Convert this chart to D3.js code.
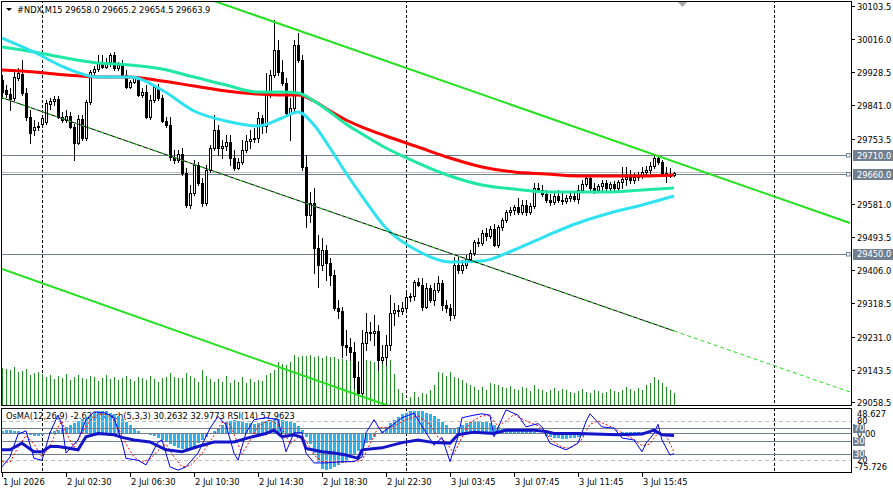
<!DOCTYPE html>
<html>
<head>
<meta charset="utf-8">
<script src="https://cdn.jsdelivr.net/npm/d3@7"></script>
<style>
  body { margin: 0; background: #fff; }
  svg text { font-family: "DejaVu Sans", sans-serif; font-size: 8.3px; fill: #000; }
</style>
</head>
<body>
<svg id="chart" width="893" height="494"></svg>
<script>
// #NDX M15 bars: [open, high, low, close]
var candles = [
  [29908.2,29921.4,29860.7,29876.5],[29881.8,29895.0,29863.3,29871.2],[29871.2,29887.1,29829.0,29858.0],[29860.7,29934.6,29855.4,29916.1],
  [29913.5,29939.9,29908.2,29926.7],[29924.0,29961.0,29868.6,29873.9],[29873.9,29887.1,29802.6,29810.5],[29810.5,29829.0,29741.9,29768.3],
  [29776.2,29802.6,29763.0,29784.1],[29784.1,29797.3,29776.2,29786.8],[29792.0,29815.8,29786.8,29807.9],[29797.3,29855.4,29792.0,29847.5],
  [29844.8,29860.7,29831.6,29852.8],[29852.8,29866.0,29842.2,29858.0],[29858.0,29866.0,29807.9,29810.5],[29810.5,29823.7,29797.3,29802.6],
  [29802.6,29829.0,29797.3,29813.2],[29813.2,29823.7,29781.5,29784.1],[29784.1,29792.0,29697.1,29741.9],[29741.9,29815.8,29739.3,29805.2],
  [29805.2,29815.8,29749.8,29755.1],[29755.1,29855.4,29749.8,29850.1],[29850.1,29934.6,29844.8,29929.3],[29929.3,29945.1,29924.0,29937.2],
  [29937.2,29974.2,29931.9,29955.7],[29955.7,29974.2,29939.9,29942.5],[29942.5,29966.2,29939.9,29955.7],[29955.7,29979.4,29945.1,29974.2],
  [29974.2,29982.1,29934.6,29939.9],[29939.9,29955.7,29934.6,29947.8],[29947.8,29961.0,29918.7,29921.4],[29921.4,29934.6,29887.1,29889.7],
  [29889.7,29908.2,29887.1,29902.9],[29902.9,29918.7,29900.3,29913.5],[29913.5,29918.7,29866.0,29868.6],[29868.6,29887.1,29863.3,29876.5],
  [29876.5,29895.0,29807.9,29810.5],[29810.5,29868.6,29805.2,29855.4],[29855.4,29895.0,29850.1,29889.7],[29889.7,29897.6,29855.4,29860.7],
  [29860.7,29868.6,29797.3,29800.0],[29800.0,29810.5,29784.1,29789.4],[29789.4,29810.5,29697.1,29705.0],[29705.0,29723.5,29689.1,29697.1],
  [29697.1,29723.5,29691.8,29712.9],[29712.9,29728.7,29657.5,29662.7],[29662.7,29675.9,29573.0,29578.3],[29578.3,29631.1,29570.4,29609.9],
  [29609.9,29697.1,29604.7,29683.9],[29683.9,29691.8,29631.1,29636.4],[29636.4,29649.6,29575.6,29583.6],[29583.6,29683.9,29578.3,29670.7],
  [29670.7,29736.6,29665.4,29728.7],[29728.7,29815.8,29723.5,29776.2],[29776.2,29789.4,29710.3,29728.7],[29728.7,29749.8,29702.3,29734.0],
  [29734.0,29763.0,29723.5,29744.6],[29744.6,29763.0,29683.9,29702.3],[29702.3,29723.5,29670.7,29675.9],[29675.9,29702.3,29673.3,29691.8],
  [29691.8,29749.8,29686.5,29723.5],[29723.5,29763.0,29718.2,29747.2],[29747.2,29776.2,29728.7,29752.5],[29752.5,29781.5,29744.6,29755.1],
  [29755.1,29823.7,29744.6,29807.9],[29807.9,29815.8,29768.3,29786.8],[29786.8,29926.7,29771.0,29868.6],[29868.6,29934.6,29863.3,29921.4],
  [29921.4,30066.5,29916.1,29987.4],[29987.4,30013.7,29921.4,29929.3],[29929.3,29961.0,29895.0,29900.3],[29900.3,29913.5,29815.8,29821.1],
  [29821.1,29860.7,29749.8,29834.3],[29834.3,30013.7,29823.7,30000.5],[30000.5,30032.2,29955.7,29961.0],[29961.0,29974.2,29670.7,29678.6],
  [29678.6,29710.3,29520.2,29551.9],[29551.9,29612.6,29533.5,29583.6],[29583.6,29623.2,29398.9,29464.8],[29464.8,29499.1,29362.0,29420.0],
  [29420.0,29491.2,29406.8,29459.6],[29459.6,29472.8,29380.4,29425.3],[29425.3,29438.4,29367.2,29393.6],[29393.6,29406.8,29301.2,29306.5],
  [29306.5,29327.6,29280.1,29298.6],[29298.6,29309.1,29177.2,29208.9],[29208.9,29248.4,29182.5,29203.6],[29203.6,29227.3,29169.3,29190.4],
  [29190.4,29216.8,29095.4,29124.4],[29124.4,29164.0,29076.9,29082.2],[29082.2,29248.4,29079.6,29214.1],[29214.1,29293.3,29195.7,29243.1],
  [29243.1,29269.5,29222.0,29240.5],[29240.5,29288.0,29208.9,29245.8],[29245.8,29261.6,29142.9,29169.3],[29169.3,29208.9,29161.4,29177.2],
  [29177.2,29235.2,29156.1,29208.9],[29208.9,29340.8,29195.7,29293.3],[29293.3,29319.7,29261.6,29301.2],[29301.2,29314.4,29285.3,29298.6],
  [29298.6,29322.3,29290.6,29306.5],[29306.5,29346.1,29301.2,29335.5],[29335.5,29346.1,29325.0,29338.2],[29338.2,29380.4,29327.6,29375.1],
  [29375.1,29385.7,29364.6,29367.2],[29367.2,29385.7,29301.2,29309.1],[29309.1,29372.5,29306.5,29359.3],[29359.3,29367.2,29322.3,29327.6],
  [29327.6,29372.5,29314.4,29354.0],[29354.0,29391.0,29348.8,29372.5],[29372.5,29380.4,29301.2,29314.4],[29314.4,29327.6,29295.9,29306.5],
  [29306.5,29317.0,29274.8,29288.0],[29288.0,29441.1,29280.1,29420.0],[29420.0,29441.1,29398.9,29406.8],[29406.8,29433.2,29398.9,29420.0],
  [29420.0,29446.4,29412.1,29435.8],[29435.8,29459.6,29427.9,29451.6],[29451.6,29485.9,29446.4,29480.7],[29480.7,29491.2,29470.1,29478.0],
  [29478.0,29512.3,29472.8,29504.4],[29504.4,29517.6,29485.9,29496.5],[29496.5,29522.9,29491.2,29515.0],[29515.0,29528.2,29470.1,29472.8],
  [29472.8,29525.5,29467.5,29520.2],[29520.2,29544.0,29512.3,29538.7],[29538.7,29565.1,29533.5,29559.8],[29559.8,29573.0,29551.9,29565.1],
  [29565.1,29578.3,29554.6,29573.0],[29573.0,29596.8,29554.6,29559.8],[29559.8,29591.5,29554.6,29578.3],[29578.3,29591.5,29551.9,29559.8],
  [29559.8,29583.6,29554.6,29575.6],[29575.6,29636.4,29570.4,29623.2],[29623.2,29636.4,29612.6,29617.9],[29617.9,29631.1,29602.0,29607.3],
  [29607.3,29617.9,29586.2,29591.5],[29591.5,29607.3,29578.3,29586.2],[29586.2,29612.6,29580.9,29602.0],[29602.0,29617.9,29586.2,29591.5],
  [29591.5,29609.9,29580.9,29588.8],[29588.8,29604.7,29583.6,29596.8],[29596.8,29609.9,29588.8,29602.0],[29602.0,29609.9,29588.8,29594.1],
  [29594.1,29631.1,29583.6,29617.9],[29617.9,29644.3,29612.6,29633.7],[29633.7,29657.5,29628.4,29649.6],[29649.6,29657.5,29617.9,29623.2],
  [29623.2,29636.4,29609.9,29617.9],[29617.9,29633.7,29612.6,29628.4],[29628.4,29644.3,29617.9,29636.4],[29636.4,29644.3,29617.9,29623.2],
  [29623.2,29639.0,29617.9,29633.7],[29633.7,29641.6,29617.9,29623.2],[29623.2,29644.3,29617.9,29639.0],[29639.0,29678.6,29623.2,29646.9],
  [29646.9,29678.6,29631.1,29652.2],[29652.2,29670.7,29636.4,29644.3],[29644.3,29662.7,29636.4,29652.2],[29652.2,29665.4,29644.3,29657.5],
  [29657.5,29678.6,29649.6,29665.4],[29665.4,29681.2,29657.5,29670.7],[29670.7,29691.8,29662.7,29681.2],[29681.2,29712.9,29675.9,29702.3],
  [29702.3,29707.6,29686.5,29691.8],[29691.8,29697.1,29657.5,29662.7],[29662.7,29678.6,29639.0,29657.5],[29657.5,29675.9,29652.2,29658.0],
  [29658.0,29665.2,29654.5,29663.9]
];

// tick volume, hundreds
var volumes = [
  37,36,35,38,33,34,36,30,32,33,31,
  28,30,26,29,27,31,25,28,30,27,26,29,28,24,27,30,26,28,25,27,29,26,24,28,27,25,29,26,23,27,28,
  32,28,27,27,32,29,27,23,35,29,26,23,26,23,29,22,25,23,28,22,26,23,25,24,30,32,35,43,41,40,43,50,48,
  49,49,50,48,49,47,49,48,48,46,46,45,46,45,44,46,45,44,43,45,44,43,
  45,31,16,12,5,8,13,8,12,11,15,20,33,32,29,33,28,27,25,22,20,18,15,18,15,22,21,
  20,18,17,19,16,15,18,17,14,20,16,15,13,15,17,14,16,
  15,13,12,14,16,13,12,15,14,12,13,16,14,13,15,18,16,14,17,15,
  20,22,28,25,22,18,15,12
];

// moving averages, sampled at these bars
var maIdx   = [0, 8, 16, 24, 32, 40, 48, 56, 64, 70, 74, 78, 82, 86, 90, 96, 104, 112, 120, 128, 136, 144, 152, 160, 168];
var maRed   = [29934.6,29929.3,29921.4,29916.1,29916.1,29905.5,29892.4,29879.2,29871.2,29868.6,29868.6,29852.8,29826.4,29802.6,29784.1,29760.4,29731.4,29702.3,29678.6,29665.4,29660.1,29654.8,29654.8,29654.8,29657.5];
var maGreen = [29995.3,29982.1,29966.2,29953.0,29947.8,29937.2,29916.1,29895.0,29876.5,29876.5,29873.9,29852.8,29823.7,29792.0,29765.7,29728.7,29689.1,29654.8,29631.1,29620.5,29612.6,29612.6,29612.6,29617.9,29623.2];
var maCyan  = [30019.0,29982.1,29939.9,29916.1,29916.1,29881.8,29826.4,29800.0,29786.8,29807.9,29823.7,29789.4,29728.7,29662.7,29602.0,29517.6,29456.9,29427.9,29430.5,29459.6,29496.5,29530.8,29557.2,29578.3,29602.0];

// OsMA(12,26,9) per bar
var osma = [
  5,6,6,5,4, 2,-2,-4,-5,-5, -4,-2,2,5,7,9, 12,16,20,24,28, 32,36,40,42,43,42,40,37,
  33,28,22,16,10,5, 1,-2,-4,-6, -9,-13,-17,-21,-25,-28,-31,-32, -30,-26,-20,-14,-8,-2,
  4,10,16,21,24,25, 24,22,20,19,18,19,21,23,25,27,27,26,24,22,19,15, 6,-8,
  -22,-38,-55,-68,-70,-69,-66,-62,-58,-53,-48,-42,-35,-28, -20,-13,-7,-2,
  5,12,19,26,32,37,40,42,43,43,42,40,37,33, 28,22,16,10,
  8,12,17,20,22,23,23,22,21,19, 16,13,11,9,8,7,6,6,5,4,3,1,
  -2,-5,-7,-9,-10,-11,-11,-10,-9,-7,
  -5,-4,-3,-2,-2,-1,-1,0,1,1,2,2,3,3,2,2,1,1,0,
  -1,-2,-2,-3,-2.624
];

// [bar, value]
var stochMain = [[0,10],[2,25],[4,60],[6,65],[8,23],[10,20],[12,62],[14,89],[15,74],[16,31],[19,51],[21,82],[23,94],[26,92],[28,85],[30,48],[31,23],[34,20],[36,13],[39,48],[40,51],[42,10],[44,5],[46,10],[49,31],[52,69],[54,87],[56,74],[58,31],[59,20],[61,62],[63,82],[66,85],[69,82],[71,33],[73,62],[75,62],[76,31],[78,16],[81,16],[85,18],[88,18],[90,25],[91,62],[93,82],[95,62],[97,71],[100,85],[103,92],[106,62],[108,43],[110,55],[112,18],[114,56],[115,85],[118,89],[120,91],[122,89],[123,56],[126,97],[129,89],[131,71],[134,76],[135,71],[137,46],[139,41],[141,36],[144,46],[146,79],[147,91],[150,71],[153,69],[155,54],[158,51],[160,33],[161,46],[163,61],[164,75],[165,51],[167,28],[168,30.2632]];
var stochSignal = [[0,18],[2,17],[4,40],[6,58],[8,45],[10,25],[12,42],[14,70],[15,80],[16,62],[18,40],[20,62],[22,80],[24,90],[27,90],[29,70],[31,45],[33,25],[35,17],[37,22],[39,35],[41,45],[43,25],[45,10],[47,12],[50,30],[53,58],[55,78],[57,75],[59,45],[60,30],[62,50],[64,72],[67,82],[70,70],[72,45],[74,55],[76,50],[78,28],[80,18],[84,17],[88,18],[90,20],[92,45],[94,70],[96,70],[98,72],[101,82],[104,88],[107,75],[109,55],[111,48],[113,30],[115,55],[117,78],[120,88],[122,88],[124,72],[126,80],[128,90],[131,80],[134,73],[136,60],[138,48],[140,40],[142,38],[145,52],[147,75],[149,80],[152,72],[155,62],[158,52],[160,42],[162,45],[164,62],[166,58],[168,32.9773]];
var rsi = [[0,36],[2,36],[4,43],[5,46],[8,33],[10,33],[12,41],[14,41],[16,39],[19,36],[21,56],[24,61],[28,59],[30,55],[33,51],[37,48],[41,36],[45,33],[49,41],[53,48],[58,48],[62,55],[66,61],[68,66],[70,56],[73,59],[75,55],[76,38],[80,33],[83,31],[86,28],[89,23],[90,36],[95,39],[100,47],[104,51],[108,47],[112,46],[114,59],[118,63],[123,61],[126,66],[133,66],[136,64],[138,61],[144,61],[154,59],[160,60],[163,66],[165,59],[168,57.9623]];

// channel objects, [bar, price]
var upperChannel = [[0, 30312.3], [212, 29530.8]];
var midChannel = [[0, 29861.5], [168, 29246.0], [212, 29084.8]];
var lowerChannel = [[0, 29409.4], [110, 28998.4]];

var hLevels = [29710.0, 29660.0, 29450.0];
var bidPrice = 29663.9;
var priceTicks = [30103.5, 30016.0, 29928.5, 29841.0, 29753.5, 29581.0, 29493.5, 29406.0, 29318.5, 29231.0, 29143.5, 29058.5];
var daySeparators = [10, 101, 193];
var timeTickIdx = [0, 16, 32, 48, 64, 80, 96, 112, 128, 144, 160];
var timeLabels = ["1 Jul 2026", "2 Jul 02:30", "2 Jul 06:30", "2 Jul 10:30", "2 Jul 14:30", "2 Jul 18:30",
                  "2 Jul 22:30", "3 Jul 03:45", "3 Jul 07:45", "3 Jul 11:45", "3 Jul 15:45"];

var x = d3.scaleLinear().domain([0, 168]).range([2, 674]);
var y = d3.scaleLinear().domain([29058.5, 30103.5]).range([402, 6]);
var yVol = d3.scaleLinear().domain([0, 50]).range([405, 355]);
var yOsc = d3.scaleLinear().domain([0, 100]).range([473.4, 407.9]);
var yOsma = d3.scaleLinear().domain([-75.726, 48.627]).range([473, 408]);

var svg = d3.select('#chart');
svg.append('rect').attr('width', 893).attr('height', 494).attr('fill', '#fff');

var defs = svg.append('defs');
defs.append('clipPath').attr('id', 'clipMain').append('rect')
    .attr('x', 2).attr('y', 2).attr('width', 849).attr('height', 403);
defs.append('clipPath').attr('id', 'clipOsc').append('rect')
    .attr('x', 2).attr('y', 409).attr('width', 849).attr('height', 63);

var main = svg.append('g').attr('clip-path', 'url(#clipMain)');
var osc = svg.append('g').attr('clip-path', 'url(#clipOsc)');

function px(i) { return Math.round(x(i)); }
function snap(v) { return Math.round(v) + 0.5; }

// header
svg.append('path').attr('d', 'M6,8 L12,8 L9,11 Z').attr('fill', '#000');
svg.append('text').attr('x', 17).attr('y', 13).text('#NDX,M15  29658.0 29665.2 29654.5 29663.9');
svg.append('path').attr('d', 'M677,1 L688,1 L682.5,7 Z').attr('fill', '#a8a8a8');

// day separators
daySeparators.forEach(function (i) {
    var sx = px(i) + 0.5;
    main.append('line').attr('x1', sx).attr('x2', sx).attr('y1', 0).attr('y2', 405)
        .attr('stroke', '#000').attr('stroke-dasharray', '3,2');
    osc.append('line').attr('x1', sx).attr('x2', sx).attr('y1', 408).attr('y2', 473)
        .attr('stroke', '#000').attr('stroke-dasharray', '3,2');
});

// volumes
main.selectAll('.vol').data(volumes).enter().append('line')
    .attr('class', 'vol')
    .attr('x1', function (d, i) { return px(i) + 0.5; })
    .attr('x2', function (d, i) { return px(i) + 0.5; })
    .attr('y1', 405)
    .attr('y2', function (d) { return Math.round(yVol(d)); })
    .attr('stroke', '#1f8f1f');

// horizontal lines
main.append('line').attr('x1', 2).attr('x2', 851).attr('y1', snap(y(bidPrice)) - 1).attr('y2', snap(y(bidPrice)) - 1)
    .attr('stroke', '#c0c0c0');
hLevels.forEach(function (v) {
    var hy = snap(y(v));
    main.append('line').attr('x1', 2).attr('x2', 846).attr('y1', hy).attr('y2', hy).attr('stroke', '#708090');
    main.append('rect').attr('x', 846.5).attr('y', hy - 2).attr('width', 3.5).attr('height', 3.5)
        .attr('fill', '#fff').attr('stroke', '#708090');
});

// candles
var bars = main.selectAll('.bar').data(candles).enter().append('g').attr('class', 'bar');
bars.append('line')
    .attr('x1', function (d, i) { return px(i) + 0.5; })
    .attr('x2', function (d, i) { return px(i) + 0.5; })
    .attr('y1', function (d) { return Math.round(y(d[1])); })
    .attr('y2', function (d) { return Math.round(y(d[2])) + 1; })
    .attr('stroke', '#000');
bars.append('rect')
    .attr('x', function (d, i) { return d[3] >= d[0] ? px(i) - 0.5 : px(i) - 1; })
    .attr('y', function (d) {
        var t = Math.round(y(Math.max(d[0], d[3])));
        return d[3] >= d[0] ? t + 0.5 : t;
    })
    .attr('width', function (d) { return d[3] >= d[0] ? 2 : 3; })
    .attr('height', function (d) {
        var h = Math.max(1, Math.round(y(Math.min(d[0], d[3]))) - Math.round(y(Math.max(d[0], d[3]))));
        return d[3] >= d[0] ? h : h + 1;
    })
    .attr('fill', function (d) { return d[3] >= d[0] ? '#fff' : '#000'; })
    .attr('stroke', function (d) { return d[3] >= d[0] ? '#000' : 'none'; });

// moving averages
var maLine = d3.line()
    .x(function (d) { return x(d[0]); })
    .y(function (d) { return y(d[1]); })
    .curve(d3.curveMonotoneX);
function zipMA(vals) { return maIdx.map(function (b, k) { return [b, vals[k]]; }); }
main.append('path').attr('d', maLine(zipMA(maRed))).attr('fill', 'none').attr('stroke', '#ff0000').attr('stroke-width', 3);
main.append('path').attr('d', maLine(zipMA(maGreen))).attr('fill', 'none').attr('stroke', '#1ee8a2').attr('stroke-width', 3);
main.append('path').attr('d', maLine(zipMA(maCyan))).attr('fill', 'none').attr('stroke', '#2fe2f2').attr('stroke-width', 3);

// channels
var objLine = d3.line().x(function (d) { return x(d[0]); }).y(function (d) { return y(d[1]); });
main.append('path').attr('d', objLine(upperChannel)).attr('fill', 'none').attr('stroke', '#22e01c').attr('stroke-width', 2);
main.append('path').attr('d', objLine(lowerChannel)).attr('fill', 'none').attr('stroke', '#22e01c').attr('stroke-width', 2);
main.append('path').attr('d', objLine(midChannel.slice(0, 2))).attr('fill', 'none').attr('stroke', '#000').attr('stroke-width', 1);
main.append('path').attr('d', objLine(midChannel.slice(0, 2))).attr('fill', 'none').attr('stroke', '#22e01c')
    .attr('stroke-width', 1).attr('stroke-dasharray', '3,4');
main.append('path').attr('d', objLine(midChannel.slice(1))).attr('fill', 'none').attr('stroke', '#22e01c')
    .attr('stroke-width', 1).attr('stroke-dasharray', '4,3');

// oscillator window
osc.append('text').attr('x', 6).attr('y', 419)
    .text('OsMA(12,26,9) -2.624  Stoch(5,3,3) 30.2632 32.9773  RSI(14) 57.9623');

osc.selectAll('.osma').data(osma).enter().append('rect')
    .attr('class', 'osma')
    .attr('x', function (d, i) { return px(i) - 1; })
    .attr('width', 3)
    .attr('y', function (d) { return Math.round(Math.min(yOsma(d), yOsma(0))); })
    .attr('height', function (d) { return Math.max(1, Math.round(Math.abs(yOsma(d) - yOsma(0)))); })
    .attr('fill', '#2bb5ee');

[80, 20].forEach(function (v) {
    osc.append('line').attr('x1', 2).attr('x2', 851).attr('y1', snap(yOsc(v))).attr('y2', snap(yOsc(v)))
        .attr('stroke', '#c0c0c0').attr('stroke-dasharray', '4,3');
});
[70, 50, 30].forEach(function (v) {
    osc.append('line').attr('x1', 2).attr('x2', 851).attr('y1', snap(yOsc(v))).attr('y2', snap(yOsc(v)))
        .attr('stroke', '#708090');
});
osc.append('line').attr('x1', 2).attr('x2', 851).attr('y1', snap(yOsma(0))).attr('y2', snap(yOsma(0)))
    .attr('stroke', '#708090');

var oscLine = d3.line().x(function (d) { return x(d[0]); }).y(function (d) { return yOsc(d[1]); });
osc.append('path').attr('d', oscLine(stochSignal)).attr('fill', 'none').attr('stroke', '#ff0000')
    .attr('stroke-width', 1).attr('stroke-dasharray', '2,2');
osc.append('path').attr('d', oscLine(stochMain)).attr('fill', 'none').attr('stroke', '#0000ff').attr('stroke-width', 1);
osc.append('path').attr('d', oscLine(rsi)).attr('fill', 'none').attr('stroke', '#1414c8').attr('stroke-width', 3);

// frames
svg.append('rect').attr('x', 1.5).attr('y', 1.5).attr('width', 850).attr('height', 404)
    .attr('fill', 'none').attr('stroke', '#000');
svg.append('rect').attr('x', 1.5).attr('y', 408.5).attr('width', 850).attr('height', 64)
    .attr('fill', 'none').attr('stroke', '#000');

// price axis
priceTicks.forEach(function (v) {
    var ty = Math.round(y(v)) + 0.5;
    svg.append('line').attr('x1', 851).attr('x2', 855).attr('y1', ty).attr('y2', ty).attr('stroke', '#000');
    svg.append('text').attr('x', 857).attr('y', ty + 3).text(v.toFixed(1));
});
hLevels.forEach(function (v) {
    var ty = y(v);
    svg.append('rect').attr('x', 853).attr('y', Math.round(ty) - 5).attr('width', 40).attr('height', 11).attr('fill', '#708090');
    svg.append('text').attr('x', 857).attr('y', ty + 3.5).style('fill', '#fff').text(v.toFixed(1));
});

// oscillator axis
svg.append('text').attr('x', 857).attr('y', 417).text('48.627');
svg.append('text').attr('x', 857).attr('y', yOsc(80) + 3).text('80');
svg.append('text').attr('x', 857).attr('y', yOsma(0) + 3.5).text('0.00');
svg.append('text').attr('x', 857).attr('y', yOsc(20) + 3).text('20');
svg.append('text').attr('x', 855).attr('y', 470).text('-75.726');
[70, 50, 30].forEach(function (v) {
    var ty = yOsc(v);
    svg.append('rect').attr('x', 853).attr('y', Math.round(ty) - 4).attr('width', 12).attr('height', 9).attr('fill', '#708090');
    svg.append('text').attr('x', 854).attr('y', ty + 3).style('fill', '#fff').text(v);
});

// time axis
timeTickIdx.forEach(function (b, k) {
    var tx = px(b) + 0.5;
    svg.append('line').attr('x1', tx).attr('x2', tx).attr('y1', 473).attr('y2', 477).attr('stroke', '#000');
    svg.append('text').attr('x', tx + 0.5).attr('y', 485).text(timeLabels[k]);
});
</script>
</body>
</html>
